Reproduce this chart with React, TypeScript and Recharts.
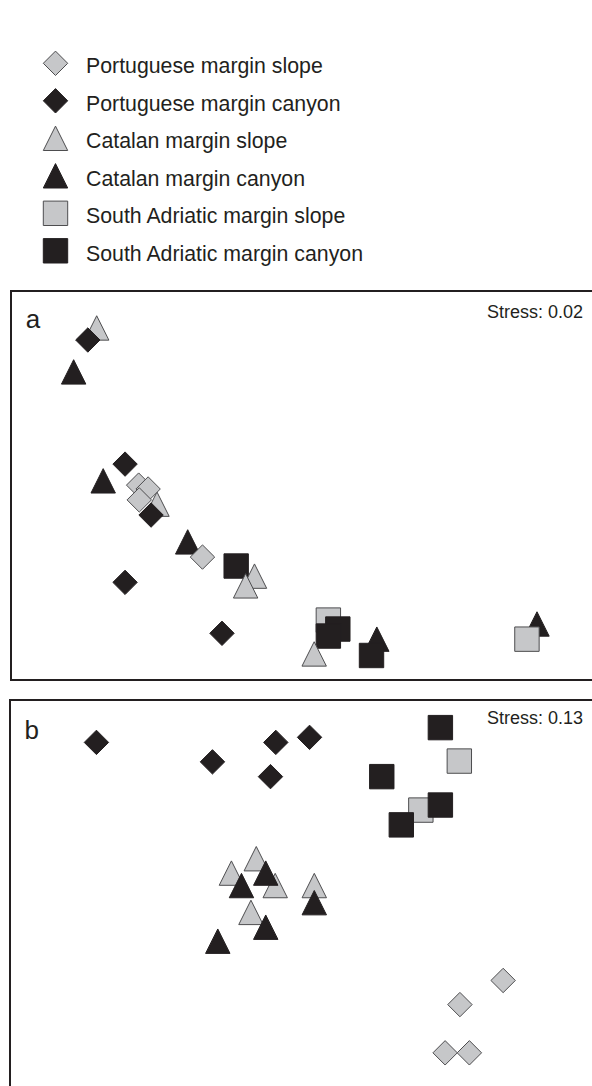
import React from 'react'
import { ScatterChart, Scatter, XAxis, YAxis, ReferenceArea, Legend } from 'recharts'

const groups = [
  'Portuguese margin slope',
  'Portuguese margin canyon',
  'Catalan margin slope',
  'Catalan margin canyon',
  'South Adriatic margin slope',
  'South Adriatic margin canyon',
]

// panel a, nMDS ordination (arbitrary units 0-100)
const portSlopeA = [{ x: 21.6, y: 50.1 }, { x: 23.2, y: 49.1 }, { x: 21.7, y: 46.3 }, { x: 32.4, y: 31.6 }]
const portCanyonA = [{ x: 13.0, y: 87.4 }, { x: 19.3, y: 55.5 }, { x: 23.7, y: 42.4 }, { x: 19.3, y: 25.1 }, { x: 35.7, y: 12.0 }]
const catSlopeA = [{ x: 14.5, y: 90.5 }, { x: 24.7, y: 45.2 }, { x: 41.2, y: 26.7 }, { x: 39.7, y: 24.2 }, { x: 51.3, y: 6.7 }]
const catCanyonA = [{ x: 10.6, y: 79.2 }, { x: 15.6, y: 51.2 }, { x: 29.9, y: 35.5 }, { x: 61.9, y: 10.5 }, { x: 89.0, y: 14.4 }]
const adrSlopeA = [{ x: 53.7, y: 15.4 }, { x: 87.3, y: 10.5 }]
const adrCanyonA = [{ x: 38.1, y: 29.3 }, { x: 55.3, y: 13.1 }, { x: 53.7, y: 11.3 }, { x: 61.0, y: 6.3 }]

// panel b
const portSlopeB = [{ x: 83.3, y: 27.9 }, { x: 76.0, y: 21.7 }, { x: 73.5, y: 9.3 }, { x: 77.6, y: 9.3 }]
const portCanyonB = [{ x: 14.6, y: 89.1 }, { x: 34.2, y: 84.1 }, { x: 44.9, y: 89.1 }, { x: 50.6, y: 90.4 }, { x: 44.0, y: 80.3 }]
const catSlopeB = [{ x: 41.6, y: 59.2 }, { x: 37.4, y: 55.5 }, { x: 44.8, y: 52.3 }, { x: 51.4, y: 52.3 }, { x: 40.7, y: 45.4 }]
const catCanyonB = [{ x: 43.2, y: 55.5 }, { x: 39.1, y: 52.3 }, { x: 51.4, y: 47.9 }, { x: 43.2, y: 41.6 }, { x: 35.1, y: 38.0 }]
const adrSlopeB = [{ x: 75.9, y: 84.3 }, { x: 69.4, y: 71.7 }]
const adrCanyonB = [{ x: 72.7, y: 92.9 }, { x: 62.8, y: 80.3 }, { x: 72.7, y: 73.0 }, { x: 66.1, y: 67.9 }]

const stressA = 'Stress: 0.02'
const stressB = 'Stress: 0.13'

const INK = '#231f20'
const GRAY = '#c6c7c9'
const EDGE = '#4d4d4f'
const FONT = '"Liberation Sans", Arial, sans-serif'
const R = 12.2

const look: Record<string, { kind: string; fill: string }> = {
  'Portuguese margin slope': { kind: 'diamond', fill: GRAY },
  'Portuguese margin canyon': { kind: 'diamond', fill: INK },
  'Catalan margin slope': { kind: 'triangle', fill: GRAY },
  'Catalan margin canyon': { kind: 'triangle', fill: INK },
  'South Adriatic margin slope': { kind: 'square', fill: GRAY },
  'South Adriatic margin canyon': { kind: 'square', fill: INK },
}

const symbolPath = (kind: string, cx: number, cy: number) => {
  if (kind === 'diamond') return `M${cx},${cy - R}L${cx + R},${cy}L${cx},${cy + R}L${cx - R},${cy}Z`
  if (kind === 'triangle') return `M${cx},${cy - R}L${cx + R},${cy + R}L${cx - R},${cy + R}Z`
  return `M${cx - R},${cy - R}H${cx + R}V${cy + R}H${cx - R}Z`
}

const Mark = (name: string) => (props: any) => {
  const { kind, fill } = look[name]
  return (
    <path
      d={symbolPath(kind, props.cx, props.cy)}
      fill={fill}
      stroke={fill === INK ? INK : EDGE}
      strokeWidth={1}
    />
  )
}

const LegendBox = () => (
  <svg width={420} height={280} style={{ display: 'block' }}>
    {groups.map((g, i) => (
      <g key={g}>
        <path
          d={symbolPath(look[g].kind, 55.5, 63.3 + 37.5 * i)}
          fill={look[g].fill}
          stroke={look[g].fill === INK ? INK : EDGE}
          strokeWidth={1}
        />
        <text x={86} y={73.3 + 37.5 * i} fontSize={21.3} fontFamily={FONT} fill={INK}>
          {g}
        </text>
      </g>
    ))}
  </svg>
)

const series = (name: string, data: { x: number; y: number }[]) => (
  <Scatter key={name} name={name} data={data} shape={Mark(name)} isAnimationActive={false} />
)

const App = () => {
  return (
    <div
      style={{
        position: 'absolute',
        left: 0,
        top: 0,
        width: 592,
        height: 1086,
        overflow: 'hidden',
        background: '#fff',
        fontFamily: FONT,
      }}
    >
      <ScatterChart width={612} height={690} margin={{ top: 291, right: 10, bottom: 10, left: 11 }}>
        <XAxis type="number" dataKey="x" domain={[0, 100]} hide />
        <YAxis type="number" dataKey="y" domain={[0, 100]} hide />
        <ReferenceArea x1={0} x2={100} y1={0} y2={100} fill="none" stroke={INK} strokeWidth={2} ifOverflow="visible" />
        <Legend
          layout="vertical"
          align="center"
          verticalAlign="middle"
          wrapperStyle={{ top: 0, left: 0, width: 420, height: 280 }}
          content={() => <LegendBox />}
        />
        {series(groups[3], catCanyonA)}
        {series(groups[4], adrSlopeA)}
        {series(groups[5], adrCanyonA)}
        {series(groups[2], catSlopeA)}
        {series(groups[0], portSlopeA)}
        {series(groups[1], portCanyonA)}
        <text x={25.7} y={327.7} fontSize={26} fontFamily={FONT} fill={INK}>
          a
        </text>
        <text x={583} y={318} textAnchor="end" fontSize={18} fontFamily={FONT} fill={INK}>
          {stressA}
        </text>
      </ScatterChart>
      <ScatterChart width={612} height={420} margin={{ top: 10, right: 10, bottom: 21, left: 10 }}>
        <XAxis type="number" dataKey="x" domain={[0, 100]} hide />
        <YAxis type="number" dataKey="y" domain={[0, 100]} hide />
        <ReferenceArea x1={0} x2={100} y1={0} y2={100} fill="none" stroke={INK} strokeWidth={2} ifOverflow="visible" />
        {series(groups[4], adrSlopeB)}
        {series(groups[5], adrCanyonB)}
        {series(groups[2], catSlopeB)}
        {series(groups[3], catCanyonB)}
        {series(groups[0], portSlopeB)}
        {series(groups[1], portCanyonB)}
        <text x={24.6} y={48.5} fontSize={26} fontFamily={FONT} fill={INK}>
          b
        </text>
        <text x={583} y={33.5} textAnchor="end" fontSize={18} fontFamily={FONT} fill={INK}>
          {stressB}
        </text>
      </ScatterChart>
    </div>
  )
}

export default App
